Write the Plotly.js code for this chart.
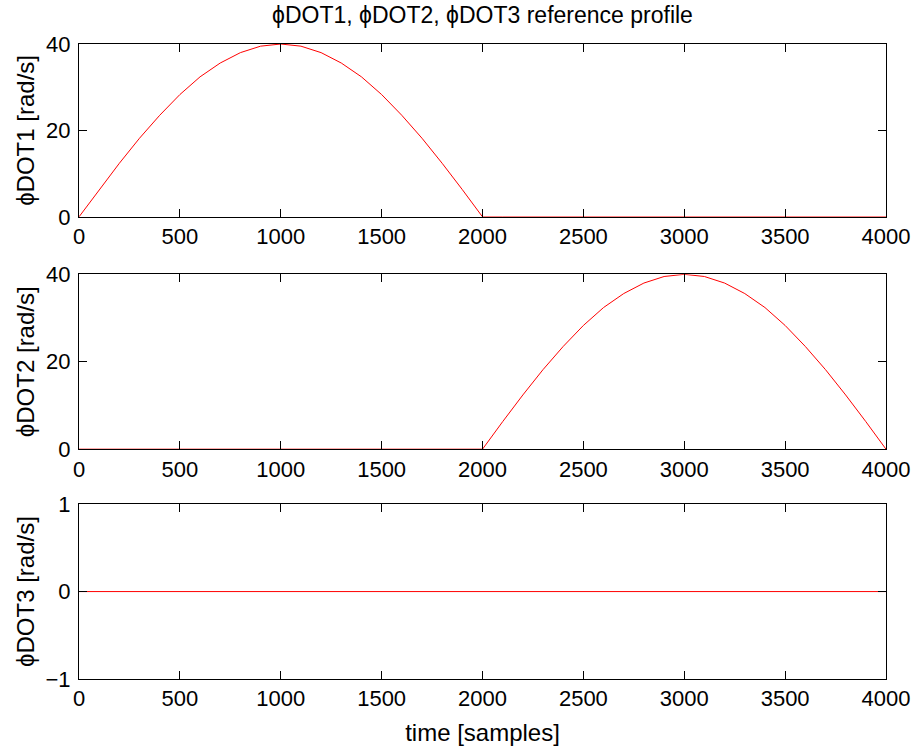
<!DOCTYPE html>
<html>
<head>
<meta charset="utf-8">
<script src="https://cdn.plot.ly/plotly-3.0.1.min.js"></script>
<style>html,body{margin:0;padding:0;background:#fff;}#chart{width:916px;height:746px;}</style>
</head>
<body>
<div id="chart"></div>
<script>
// time samples (read every 100 samples)
const timeSamples = [0,100,200,300,400,500,600,700,800,900,1000,1100,1200,1300,1400,1500,1600,1700,1800,1900,2000,
  2100,2200,2300,2400,2500,2600,2700,2800,2900,3000,3100,3200,3300,3400,3500,3600,3700,3800,3900,4000];
// phiDOT1 [rad/s]
const phiDot1 = [0,6.3,12.4,18.2,23.5,28.3,32.4,35.6,38.0,39.5,40,39.5,38.0,35.6,32.4,28.3,23.5,18.2,12.4,6.3,0,
  0,0,0,0,0,0,0,0,0,0,0,0,0,0,0,0,0,0,0,0];
// phiDOT2 [rad/s]
const phiDot2 = [0,0,0,0,0,0,0,0,0,0,0,0,0,0,0,0,0,0,0,0,0,
  6.3,12.4,18.2,23.5,28.3,32.4,35.6,38.0,39.5,40,39.5,38.0,35.6,32.4,28.3,23.5,18.2,12.4,6.3,0];
// phiDOT3 [rad/s]
const phiDot3 = [0,0,0,0,0,0,0,0,0,0,0,0,0,0,0,0,0,0,0,0,0,
  0,0,0,0,0,0,0,0,0,0,0,0,0,0,0,0,0,0,0,0];

const xTicks = [0,500,1000,1500,2000,2500,3000,3500,4000];
const yTicks12 = [0,20,40];
const yTicks3 = [-1,0,1];
const yTitles = ['ϕDOT1 [rad/s]','ϕDOT2 [rad/s]','ϕDOT3 [rad/s]'];
const chartTitle = 'ϕDOT1, ϕDOT2, ϕDOT3 reference profile';
const xTitle = 'time [samples]';

const FONT = 'Liberation Sans, Arial, Helvetica, sans-serif';
const TICK_SIZE = 22, LABEL_SIZE = 24, TITLE_SIZE = 23;
const lineStyle = {color:'#ff0000', width:1};

const traces = [
  {x: timeSamples, y: phiDot1, type:'scatter', mode:'lines', line: lineStyle, xaxis:'x', yaxis:'y', showlegend:false},
  {x: timeSamples, y: phiDot2, type:'scatter', mode:'lines', line: lineStyle, xaxis:'x2', yaxis:'y2', showlegend:false},
  {x: timeSamples, y: phiDot3, type:'scatter', mode:'lines', line: lineStyle, xaxis:'x3', yaxis:'y3', showlegend:false}
];

const figH = 746, plotTop = 43.5, plotBottom = 679;
const plotH = plotBottom - plotTop;
function dom(t, b){ return [(plotBottom - b)/plotH, (plotBottom - t)/plotH]; }

function xa(anchor, withTitle){
  const a = {
    anchor: anchor, domain:[0,1], range:[0,4000], tickmode:'array', tickvals: xTicks,
    ticks:'inside', ticklen:8, tickwidth:1, tickcolor:'#000',
    showline:true, linecolor:'#000', linewidth:1, mirror:'ticks',
    showgrid:false, zeroline:false, ticklabelstandoff:0,
    tickfont:{family:FONT, size:TICK_SIZE, color:'#000'}
  };
  if (withTitle) a.title = {text: xTitle, font:{family:FONT, size:LABEL_SIZE, color:'#000'}, standoff:13};
  return a;
}
function ya(anchor, d, range, tv, title){
  return {
    anchor: anchor, domain: d, range: range, tickmode:'array', tickvals: tv,
    ticks:'inside', ticklen:8, tickwidth:1, tickcolor:'#000',
    showline:true, linecolor:'#000', linewidth:1, mirror:'ticks',
    showgrid:false, zeroline:false, ticklabelstandoff:3,
    tickfont:{family:FONT, size:TICK_SIZE, color:'#000'},
    title:{text:title, font:{family:FONT, size:LABEL_SIZE, color:'#000'}, standoff:4}
  };
}

const layout = {
  width:916, height:746,
  paper_bgcolor:'#fff', plot_bgcolor:'#fff',
  margin:{l:79, r:30, t:plotTop, b:figH-plotBottom, pad:0},
  showlegend:false,
  title:{text: chartTitle, font:{family:FONT, size:TITLE_SIZE, color:'#000'},
    x:0.5, xref:'paper', xanchor:'center', y:1-15/figH, yref:'container', yanchor:'middle'},
  xaxis: xa('y', false),
  xaxis2: xa('y2', false),
  xaxis3: xa('y3', true),
  yaxis: ya('x', dom(43.5,216.5), [0,40], yTicks12, yTitles[0]),
  yaxis2: ya('x2', dom(274,449), [0,40], yTicks12, yTitles[1]),
  yaxis3: ya('x3', dom(504,679), [-1,1], yTicks3, yTitles[2])
};

Plotly.newPlot('chart', traces, layout, {staticPlot:true, displayModeBar:false});
</script>
</body>
</html>
